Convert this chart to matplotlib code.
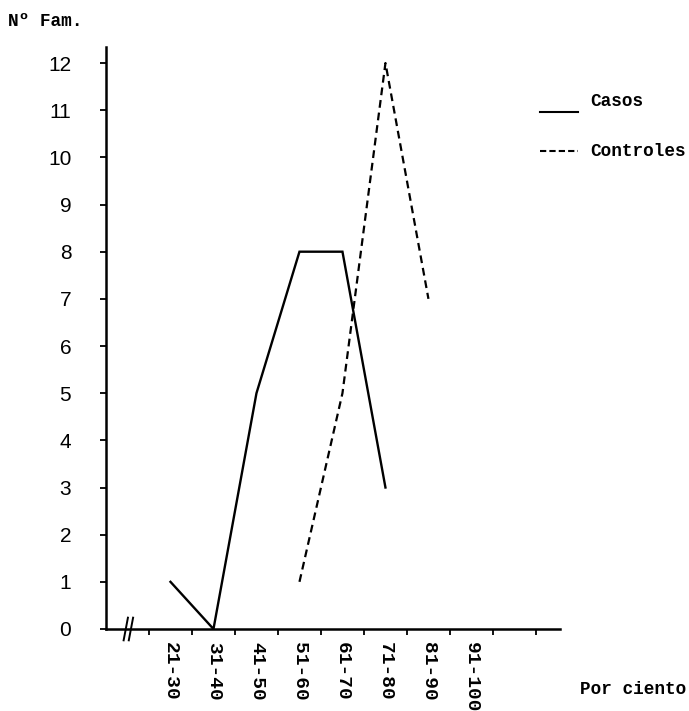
import matplotlib
matplotlib.use("Agg")
import matplotlib.pyplot as plt
from matplotlib.lines import Line2D

categories = ["21-30", "31-40", "41-50", "51-60", "61-70", "71-80", "81-90", "91-100"]
casos_idx = [0, 1, 2, 3, 4, 5]
casos_vals = [1, 0, 5, 8, 8, 3]
controles_idx = [3, 4, 5, 6]
controles_vals = [1, 5, 12, 7]
yticks = list(range(0, 13))

mono = "Liberation Mono"
sans = "Liberation Sans"

fig = plt.figure(figsize=(6.89, 7.11), dpi=100)
ax = fig.add_axes([106/689, 1-629/711, 454/689, 582/711])
ax.set_xlim(-1.5, 9.06)
ax.set_ylim(0, 12.34)

ax.plot(casos_idx, casos_vals, color="black", lw=1.7, solid_joinstyle="miter")
ax.plot(controles_idx, controles_vals, color="black", lw=1.6, linestyle=(0, (3.5, 2.2)))

for s in ["top", "right"]:
    ax.spines[s].set_visible(False)
for s in ["left", "bottom"]:
    ax.spines[s].set_linewidth(1.8)

ax.set_yticks(yticks)
ax.set_yticklabels([str(v) for v in yticks], fontfamily=sans, fontsize=15)
ax.tick_params(axis="y", length=4, width=1.3, pad=21)

ax.set_xticks([i - 0.5 for i in range(10)])
ax.set_xticklabels([])
ax.set_xticks(range(len(categories)), minor=True)
ax.set_xticklabels(categories, minor=True, rotation=270, fontfamily=mono,
                   fontsize=14, fontweight="bold", va="top", ha="center")
ax.tick_params(axis="x", which="major", length=4, width=1.3)
ax.tick_params(axis="x", which="minor", length=0, pad=9)

# axis break marks
for dx in (-1.04, -0.92):
    ax.plot([dx - 0.05, dx + 0.05], [-0.24, 0.24], color="black", lw=1.4,
            clip_on=False)

# legend drawn manually
fig.add_artist(Line2D([540/689, 578/689], [1-112/711, 1-112/711], color="black", lw=1.5))
fig.add_artist(Line2D([540/689, 578/689], [1-151/711, 1-151/711], color="black", lw=1.5,
                      linestyle=(0, (3, 1.5))))
fig.text(590/689, 1-102/711, "Casos", fontfamily=mono, fontsize=12.8, fontweight="bold",
         va="center", ha="left")
fig.text(590/689, 1-151/711, "Controles", fontfamily=mono, fontsize=12.8, fontweight="bold",
         va="center", ha="left")

fig.text(8/689, 1-21/711, "Nº Fam.", fontfamily=mono, fontsize=12.8, fontweight="bold",
         va="center", ha="left")
fig.text(580/689, 1-690/711, "Por ciento", fontfamily=mono, fontsize=12.8, fontweight="bold",
         va="center", ha="left")

fig.savefig("out.png", dpi=100)
